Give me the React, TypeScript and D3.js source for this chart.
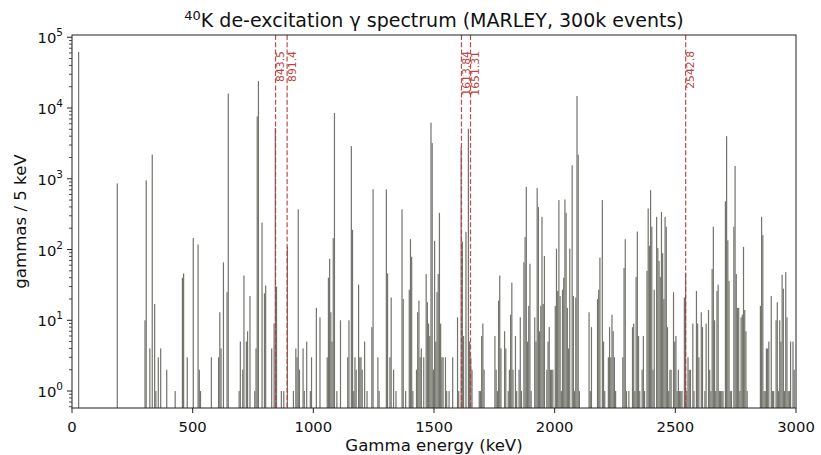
import React from "react";
import * as d3 from "d3";

// Histogram bins (lower edge, keV; bin width 5 keV) and counts
const binEnergies: number[] = [
  25, 185, 300, 305, 320, 330, 340, 345, 355, 365, 390, 425, 455, 460, 475, 500, 520, 525, 530, 575,
  605, 610, 615, 625, 640, 645, 690, 695, 705, 710, 720, 725, 735, 755, 760, 765, 770, 785, 795, 800,
  825, 835, 840, 845, 865, 875, 890, 915, 925, 930, 935, 940, 955, 960, 970, 985, 990, 1010, 1025, 1055,
  1060, 1065, 1070, 1075, 1080, 1085, 1095, 1110, 1140, 1145, 1155, 1160, 1165, 1170, 1175, 1185, 1190, 1195, 1200, 1210,
  1220, 1240, 1245, 1265, 1270, 1300, 1305, 1315, 1320, 1330, 1340, 1365, 1370, 1380, 1395, 1400, 1405, 1410, 1425, 1430,
  1435, 1440, 1445, 1455, 1465, 1470, 1475, 1480, 1485, 1490, 1495, 1500, 1505, 1510, 1515, 1520, 1525, 1530, 1535, 1545,
  1550, 1560, 1575, 1595, 1600, 1610, 1615, 1620, 1630, 1640, 1645, 1650, 1655, 1685, 1690, 1695, 1700, 1705, 1750, 1755,
  1760, 1765, 1770, 1775, 1790, 1795, 1805, 1810, 1815, 1820, 1825, 1835, 1840, 1850, 1855, 1860, 1870, 1875, 1880, 1885,
  1890, 1895, 1900, 1915, 1920, 1925, 1930, 1935, 1940, 1945, 1950, 1955, 1965, 1970, 1975, 1980, 1985, 1990, 2000, 2005,
  2010, 2015, 2020, 2025, 2030, 2035, 2040, 2045, 2050, 2055, 2060, 2070, 2075, 2080, 2085, 2090, 2095, 2100, 2140, 2145,
  2150, 2175, 2180, 2185, 2195, 2200, 2205, 2220, 2225, 2230, 2235, 2240, 2245, 2250, 2280, 2285, 2290, 2295, 2305, 2320,
  2325, 2330, 2335, 2340, 2345, 2350, 2360, 2365, 2370, 2380, 2385, 2390, 2395, 2400, 2405, 2410, 2420, 2425, 2430, 2435,
  2440, 2445, 2450, 2455, 2460, 2465, 2470, 2475, 2480, 2490, 2495, 2500, 2505, 2510, 2515, 2520, 2525, 2535, 2540, 2545,
  2550, 2555, 2560, 2570, 2575, 2585, 2590, 2595, 2605, 2610, 2620, 2625, 2635, 2640, 2645, 2650, 2655, 2660, 2665, 2670,
  2675, 2680, 2685, 2690, 2695, 2705, 2710, 2715, 2720, 2725, 2730, 2740, 2745, 2750, 2755, 2760, 2765, 2770, 2775, 2780,
  2785, 2790, 2795, 2850, 2855, 2860, 2865, 2870, 2875, 2880, 2885, 2895, 2900, 2905, 2915, 2920, 2925, 2930, 2935, 2940,
  2945, 2950, 2955, 2960, 2965, 2970, 2975, 2985, 2990,
];

const binCounts: number[] = [
  62000, 860, 10, 950, 4, 2200, 17, 1, 3, 4, 2, 1, 40, 46, 3, 145, 118, 2, 1, 3,
  3, 13, 4, 66, 25, 16000, 1, 5, 2, 43, 5, 7, 22, 1, 4, 7600, 24000, 240, 24, 31,
  4, 9, 5200, 30, 1, 1, 110, 1, 4, 3, 370, 2, 4, 1, 5, 1, 3, 15, 11, 3,
  40, 74, 13, 5, 145, 8500, 1, 10, 3, 10, 2900, 190, 1, 3, 2, 32, 3, 3, 2, 5,
  1, 8, 710, 3, 1, 710, 46, 3, 21, 2, 1, 370, 20, 1, 27, 140, 79, 1, 2, 13,
  19, 3, 4, 3, 45, 18, 9, 6, 6200, 3200, 2, 133, 5, 25, 45, 330, 9, 3, 3, 3,
  1, 1, 3, 11, 1, 2800, 130, 6, 178, 5100, 5, 3, 2, 1, 1, 6, 9, 2, 6, 2,
  1, 19, 43, 4, 7, 4, 1, 2, 12, 34, 2, 6, 1, 2, 11, 1, 66, 150, 770, 5,
  16, 63, 1, 11, 5, 740, 400, 7, 16, 290, 17, 81, 2, 5, 8, 2, 2, 2, 16, 103,
  26, 500, 22, 1, 27, 40, 510, 330, 15, 4, 103, 1550, 22, 1, 21, 14800, 2200, 1, 13, 1,
  8, 20, 27, 77, 500, 5, 1, 3, 8, 3, 12, 7, 3, 1, 3, 55, 140, 1, 1, 8,
  9, 1, 41, 180, 6, 1, 2, 6, 1, 50, 380, 113, 690, 210, 2, 27, 290, 105, 69, 41,
  340, 89, 20, 290, 210, 8, 1, 2, 2, 25, 5, 6, 1, 2, 1, 1, 1, 21, 46, 1,
  3, 2, 2, 9, 1, 26, 9, 3, 13, 8, 1, 9, 14, 2, 1, 53, 210, 10, 1, 26,
  32, 1, 1, 1, 1, 480, 4000, 135, 36, 1, 1, 210, 1520, 45, 15, 15, 1, 11, 12, 109,
  14, 7, 1, 16, 290, 160, 1, 1, 4, 4, 5, 22, 1, 1, 10, 18, 1, 10, 5, 44,
  28, 1, 48, 11, 1, 1, 5, 5, 2,
];

const binWidth = 5;
const markerEnergies: number[] = [843.5, 891.4, 1613.84, 1651.31, 2542.8];
const markerLabels: string[] = ["843.5", "891.4", "1613.84", "1651.31", "2542.8"];
const xTicks: number[] = [0, 500, 1000, 1500, 2000, 2500, 3000];
const yTickExps: number[] = [0, 1, 2, 3, 4, 5];

const FONT = "'DejaVu Sans', sans-serif";

export default function App() {
  const W = 821;
  const H = 455;
  const left = 72;
  const right = 796;
  const top = 35;
  const bottom = 408;

  const x = d3.scaleLinear().domain([0, 3000]).range([left, right]);
  const y = d3
    .scaleLog()
    .domain([Math.pow(10, -0.2396), Math.pow(10, 5.032)])
    .range([bottom, top]);

  const [yMin, yMax] = y.domain();
  const minor: number[] = [];
  for (let d = -1; d <= 5; d++) {
    for (let k = 2; k <= 9; k++) {
      const v = k * Math.pow(10, d);
      if (v >= yMin && v <= yMax) minor.push(v);
    }
  }

  const bars = binEnergies.map((e, i) => ({ e, c: binCounts[i] }));
  const barColor = "#74746d";
  const red = "#b83a3a";

  return (
    <svg
      width={W}
      height={H}
      viewBox={`0 0 ${W} ${H}`}
      style={{ position: "absolute", left: 0, top: 0, background: "#fff" }}
      fontFamily={FONT}
    >
      <rect x={0} y={0} width={W} height={H} fill="#fff" />
      <defs>
        <clipPath id="plotclip">
          <rect x={left} y={top} width={right - left} height={bottom - top} />
        </clipPath>
      </defs>

      <g clipPath="url(#plotclip)">
        {bars.map((b, i) => {
          const x0 = x(b.e);
          const x1 = x(b.e + binWidth);
          const yt = y(b.c);
          return (
            <rect key={i} x={x0} y={yt} width={x1 - x0} height={bottom - yt} fill={barColor} />
          );
        })}
        {markerEnergies.map((m, i) => (
          <line
            key={"m" + i}
            x1={x(m)}
            x2={x(m)}
            y1={top}
            y2={bottom}
            stroke={red}
            strokeWidth={1.2}
            strokeDasharray="5,2.2"
            opacity={0.9}
          />
        ))}
      </g>

      {markerEnergies.map((m, i) => (
        <text
          key={"ml" + i}
          transform={`translate(${x(m) + 8.5},${51}) rotate(-90)`}
          textAnchor="end"
          fontSize={10.8}
          fill={red}
          opacity={0.95}
        >
          {markerLabels[i]}
        </text>
      ))}

      {/* frame */}
      <rect
        x={left}
        y={top}
        width={right - left}
        height={bottom - top}
        fill="none"
        stroke="#222"
        strokeWidth={1}
      />

      {/* x ticks */}
      {xTicks.map((t) => (
        <g key={"xt" + t}>
          <line x1={x(t)} x2={x(t)} y1={bottom} y2={bottom + 5} stroke="#222" strokeWidth={1} />
          <text x={x(t)} y={bottom + 24} textAnchor="middle" fontSize={14.8} fill="#111">
            {t}
          </text>
        </g>
      ))}

      {/* y ticks */}
      {yTickExps.map((p) => {
        const yy = y(Math.pow(10, p));
        return (
          <g key={"yt" + p}>
            <line x1={left - 5} x2={left} y1={yy} y2={yy} stroke="#222" strokeWidth={1} />
            <text x={left - 9} y={yy + 6} textAnchor="end" fontSize={14.8} fill="#111">
              10
              <tspan dy={-7} fontSize={10.5}>
                {p}
              </tspan>
            </text>
          </g>
        );
      })}
      {minor.map((v, i) => (
        <line
          key={"mn" + i}
          x1={left - 3}
          x2={left}
          y1={y(v)}
          y2={y(v)}
          stroke="#222"
          strokeWidth={0.8}
        />
      ))}

      {/* axis labels */}
      <text x={(left + right) / 2} y={451} textAnchor="middle" fontSize={16.6} fill="#111">
        Gamma energy (keV)
      </text>
      <text
        transform={`translate(${26},${(top + bottom) / 2}) rotate(-90)`}
        textAnchor="middle"
        fontSize={16.6}
        fill="#111"
      >
        gammas / 5 keV
      </text>

      {/* title */}
      <text x={(left + right) / 2} y={27} textAnchor="middle" fontSize={19} fill="#111">
        <tspan dy={-7} fontSize={13}>
          40
        </tspan>
        <tspan dy={7}>K de-excitation γ spectrum (MARLEY, 300k events)</tspan>
      </text>
    </svg>
  );
}
